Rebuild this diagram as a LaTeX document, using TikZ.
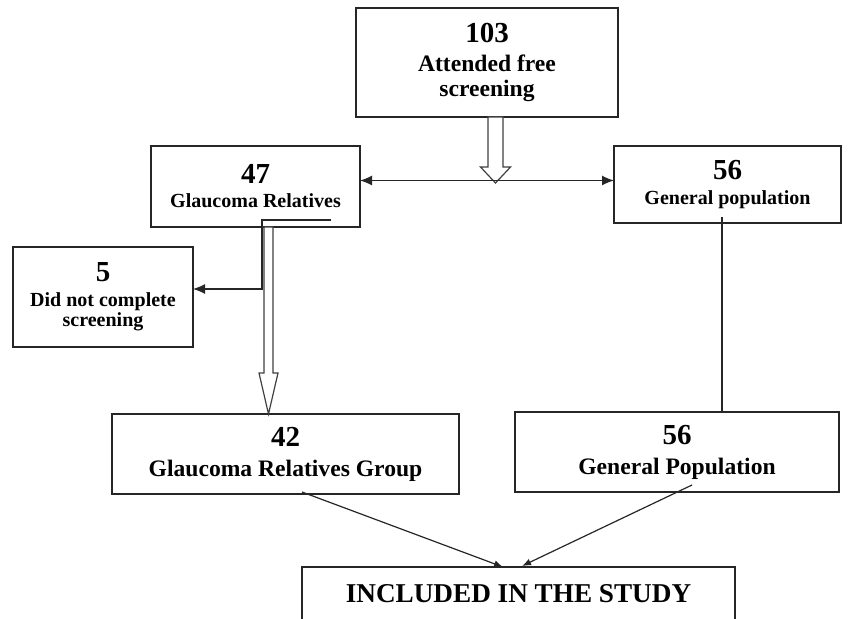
\documentclass[tikz,border=0pt]{standalone}
\usepackage{fontspec}
\setmainfont{Liberation Serif}
\usetikzlibrary{arrows.meta,calc}

\begin{document}
\begin{tikzpicture}[x=0.5pt,y=-0.5pt]

    \tikzset{
        flowbox/.style={draw=black!85,line width=0.6pt,align=center,inner sep=0pt,outer sep=0pt},
        labeltxt/.style={font=\bfseries\fontsize{10}{12.5}\selectfont},
        toptxt/.style={font=\bfseries\fontsize{11.8}{12.5}\selectfont},
        grouptxt/.style={font=\bfseries\fontsize{11.8}{15}\selectfont},
        link/.style={draw=black!85,line width=0.6pt},
        hollow/.style={draw=black!75,line width=0.6pt,fill=white}
    }
    \newcommand{\numfont}{\fontsize{14.5}{16}\selectfont}

    \newcommand{\flowbox}[7]{%
        \pgfmathsetmacro{\boxw}{(#5-#3)/2}
        \pgfmathsetmacro{\boxh}{(#6-#4)/2}
        \node[flowbox,#1,minimum width=\boxw pt,minimum height=\boxh pt] (#2)
            at ({(#3+#5)/2},{(#4+#6)/2}) {#7};
    }
    \newcommand{\hollowarrow}[5]{%
        \draw[hollow] let \p1=(#1), \p2=(#2) in
            (\x1-#3,\y1) -- (\x1-#3,\y2+#5) -- (\x1-#4,\y2+#5) -- (\x1,\y2)
            -- (\x1+#4,\y2+#5) -- (\x1+#3,\y2+#5) -- (\x1+#3,\y1) -- cycle;
    }

    \clip (0,0) rectangle (849,619);

    % boxes
    \flowbox{toptxt}{n103}{356}{8}{618}{117}{{\numfont 103}\\[2pt]Attended free\\screening}
    \flowbox{labeltxt}{n47}{151}{146}{360}{227}{{\numfont 47}\\[-0.5pt]Glaucoma Relatives}
    \flowbox{labeltxt}{n56a}{614}{146}{841}{223}{{\numfont 56}\\General population}
    \flowbox{labeltxt}{n5}{13}{247}{193}{347}{{\numfont 5}\\Did not complete\\[-2.5pt]screening}
    \flowbox{grouptxt}{n42}{112}{414}{459}{494}{{\numfont 42}\\Glaucoma Relatives Group}
    \flowbox{grouptxt}{n56b}{515}{412}{839}{492}{{\numfont 56}\\General Population}
    \node[flowbox,font=\bfseries\fontsize{13.6}{16}\selectfont,anchor=north,
        minimum width=216.5pt,inner ysep=8pt,text height=9.5pt,text depth=30pt]
        (study) at (518.5,567) {INCLUDED IN THE STUDY};

    % connectors
    \coordinate (split) at (495.5,183);
    \coordinate (gdrop) at (268.5,0);
    \coordinate (stub) at (331,220);
    \coordinate (bend) at (262,289);
    \coordinate (gdown) at (722,217);
    \coordinate (fromG) at (302,492);
    \coordinate (fromP) at (692,485);
    \coordinate (intoG) at (503,567);
    \coordinate (intoP) at (522,566);

    \hollowarrow{n103.south -| split}{split}{3.75pt}{7.5pt}{8pt}
    \draw[link,{Latex[length=6pt,width=5pt]}-{Latex[length=6pt,width=5pt]}]
        ($(n47.east |- split)+(0,-2.5)$) -- ($(n56a.west |- split)+(0,-2.5)$);

    \draw[link,-{Latex[length=6pt,width=5pt]}] (stub) -| (bend) -- (bend -| n5.east);
    \hollowarrow{n47.south -| gdrop}{n42.north -| gdrop}{2.25pt}{4.75pt}{20.5pt}

    \draw[link] (gdown) -- (gdown |- n56b.north);

    \draw[link,-{Latex[length=4.5pt,width=3.5pt]}] (fromG) -- (intoG);
    \draw[link,-{Latex[length=4.5pt,width=3.5pt]}] (fromP) -- (intoP);

\end{tikzpicture}
\end{document}
